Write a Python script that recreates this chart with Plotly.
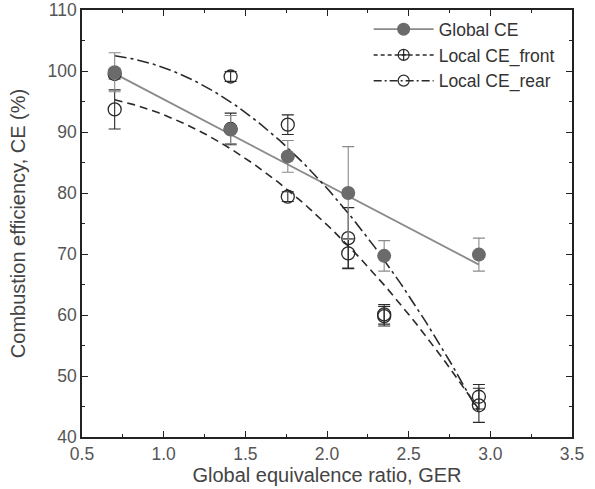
import numpy as np
import plotly.graph_objects as go

# Data
ger = [0.70, 1.41, 1.76, 2.13, 2.35, 2.93]
global_ce = [99.8, 90.4, 86.0, 80.0, 69.7, 69.9]
global_err = [3.2, 2.3, 2.6, 7.6, 2.5, 2.7]
front_ce = [93.7, 90.5, 79.4, 70.1, 59.8, 45.2]
front_err = [3.2, 2.6, 0.8, 2.4, 1.6, 2.8]
rear_ce = [99.5, 99.1, 91.2, 72.6, 60.1, 46.6]
rear_err = [0.8, 0.8, 1.6, 5.0, 1.6, 2.0]

# Fit coefficients: c0 + c1*x + c2*x^2
global_fit = [109.4, -14.04, 0.0]
front_fit = [95.78, 4.59, -7.54]
rear_fit = [99.86, 10.94, -10.24]
fit_range = [0.70, 2.93]

xf = np.linspace(fit_range[0], fit_range[1], 200)
def poly(c, x):
    return c[0] + c[1] * x + c[2] * x ** 2

GRAY = "#8a8a8a"
GFILL = "#6b6b6b"
DARK = "#2a2a2a"
FONT = "Liberation Sans, Arial"

fig = go.Figure()

# fit curves
fig.add_trace(go.Scatter(x=xf, y=poly(global_fit, xf), mode="lines",
                         line=dict(color=GRAY, width=1.8), showlegend=False))
fig.add_trace(go.Scatter(x=xf, y=poly(front_fit, xf), mode="lines",
                         line=dict(color=DARK, width=1.6, dash="8px,5px"), showlegend=False))
fig.add_trace(go.Scatter(x=xf, y=poly(rear_fit, xf), mode="lines",
                         line=dict(color=DARK, width=1.6, dash="12px,4px,3px,4px"), showlegend=False))

# data points
fig.add_trace(go.Scatter(x=ger, y=front_ce, mode="markers",
                         marker=dict(symbol="circle-open", size=13, color=DARK, line=dict(width=1.3)),
                         error_y=dict(type="data", array=front_err, color=DARK, thickness=1.1, width=6),
                         showlegend=False))
fig.add_trace(go.Scatter(x=ger, y=rear_ce, mode="markers",
                         marker=dict(symbol="circle-open", size=13, color=DARK, line=dict(width=1.3)),
                         error_y=dict(type="data", array=rear_err, color=DARK, thickness=1.1, width=6),
                         showlegend=False))
fig.add_trace(go.Scatter(x=ger, y=global_ce, mode="markers",
                         marker=dict(symbol="circle", size=14, color=GFILL),
                         error_y=dict(type="data", array=global_err, color=GRAY, thickness=1.1, width=6),
                         showlegend=False))

# legend entries
fig.add_trace(go.Scatter(x=[None], y=[None], mode="lines+markers", name="Global CE",
                         line=dict(color=GRAY, width=1.8),
                         marker=dict(symbol="circle", size=13, color=GFILL)))
fig.add_trace(go.Scatter(x=[None], y=[None], mode="lines+markers", name="Local CE_front",
                         line=dict(color=DARK, width=1.5, dash="4px,3px"),
                         marker=dict(symbol="circle-cross-open", size=11, color=DARK, line=dict(width=1.2))))
fig.add_trace(go.Scatter(x=[None], y=[None], mode="lines+markers", name="Local CE_rear",
                         line=dict(color=DARK, width=1.5, dash="8px,3px,2px,3px"),
                         marker=dict(symbol="circle-open", size=11, color=DARK, line=dict(width=1.2))))

axis_common = dict(
    showline=True, linecolor="#222", linewidth=1.5, mirror="allticks",
    ticks="inside", ticklen=6, tickwidth=1.3, tickcolor="#222",
    showgrid=False, zeroline=False,
    tickfont=dict(family=FONT, size=17.5, color="#555"),
)

fig.update_xaxes(range=[0.5, 3.5], dtick=0.5, tickformat=".1f",
                 minor=dict(dtick=0.25, ticks="inside", ticklen=3, tickwidth=1.3, tickcolor="#222"),
                 title=dict(text="Global equivalence ratio, GER", standoff=2,
                            font=dict(family=FONT, size=20, color="#444")),
                 **axis_common)
fig.update_yaxes(range=[40, 110], dtick=10,
                 minor=dict(dtick=5, ticks="inside", ticklen=3, tickwidth=1.3, tickcolor="#222"),
                 title=dict(text="Combustion efficiency, CE (%)", standoff=17,
                            font=dict(family=FONT, size=20, color="#444")),
                 **axis_common)

fig.update_layout(
    width=595, height=489,
    margin=dict(l=82, r=23, t=10, b=52, autoexpand=False),
    plot_bgcolor="white", paper_bgcolor="white",
    legend=dict(x=0.585, y=0.997, xanchor="left", yanchor="top",
                bgcolor="rgba(0,0,0,0)", borderwidth=0,
                font=dict(family=FONT, size=17.5, color="#333"),
                itemwidth=60, tracegroupgap=0),
)

fig.write_html("out.html")
